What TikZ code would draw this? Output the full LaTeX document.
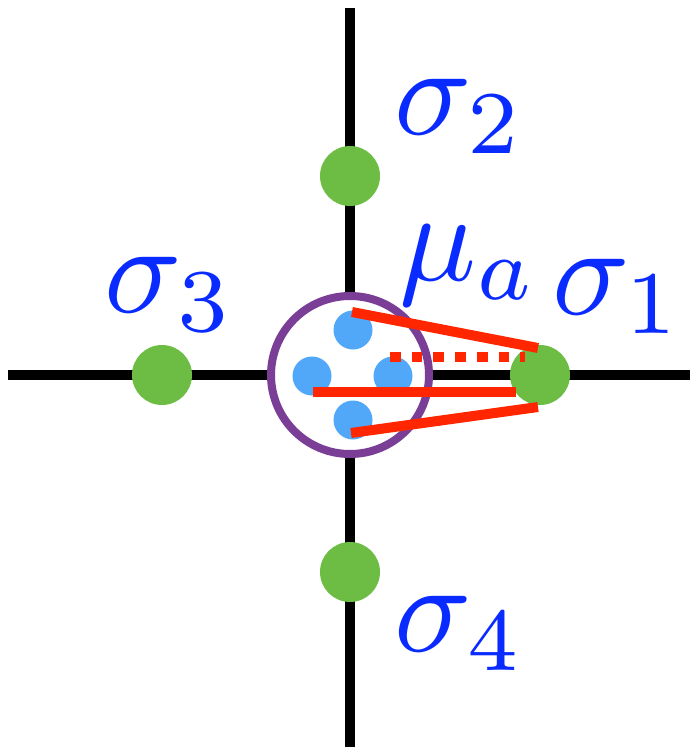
\documentclass[tikz,border=0pt]{standalone}
\usepackage{xcolor}
\definecolor{lblue}{HTML}{0A2BFF}
\definecolor{dgreen}{HTML}{6DBD45}
\definecolor{sky}{HTML}{52A8F8}
\definecolor{purp}{HTML}{7A3E97}
\definecolor{rred}{HTML}{FF2600}
\tikzset{
  axis/.style={line width=10pt, black},
  gdot/.style={circle, fill=dgreen, minimum size=60pt, inner sep=0pt},
  bdot/.style={circle, fill=sky, minimum size=39pt, inner sep=0pt},
  ring/.style={circle, draw=purp, line width=8pt, fill=white, minimum size=158pt, inner sep=0pt},
  rline/.style={line width=10pt, rred},
  rdots/.style={line width=10pt, rred, dash pattern=on 10.7pt off 11pt},
  lab/.style={text=lblue, inner sep=0pt, anchor=base west, scale=12.8}
}
\begin{document}
\begin{tikzpicture}[x=1pt,y=-1pt]
\useasboundingbox (0,0) rectangle (690,747);
\coordinate (top) at (350,8);
\coordinate (bot) at (350,747);
\coordinate (lft) at (8,375);
\coordinate (rgt) at (690,375);
\draw[axis] (top) -- (bot);
\draw[axis] (lft) -- (rgt);
\node[ring] (c) at (350,375) {};
\node[bdot] (b1) at (353,330) {};
\node[bdot] (b2) at (312,376) {};
\node[bdot] (b3) at (393,376) {};
\node[bdot] (b4) at (353,420) {};
\node[gdot] (g2) at (350,176) {};
\node[gdot] (g3) at (162,375) {};
\node[gdot] (g1) at (540,375) {};
\node[gdot] (g4) at (350,572) {};
\coordinate (r1a) at (352,312);
\coordinate (r1b) at (538,348);
\coordinate (r2a) at (313,392);
\coordinate (r2b) at (516,392);
\coordinate (r3a) at (351,433);
\coordinate (r3b) at (538,407);
\coordinate (d1) at (390,357);
\coordinate (d2) at (525,357);
\draw[rdots] (d1) -- (d2);
\draw[rline] (r1a) -- (r1b);
\draw[rline] (r2a) -- (r2b);
\draw[rline] (r3a) -- (r3b);
\node[lab] (s2) at (392,134) {$\sigma_2$};
\node[lab] (s3) at (102,312) {$\sigma_3$};
\node[lab] (s4) at (392,651) {$\sigma_4$};
\node[lab] (s1) at (550,314) {$\sigma_1$};
\node[lab] (mu) at (397,280) {$\mu_a$};
\end{tikzpicture}
\end{document}
